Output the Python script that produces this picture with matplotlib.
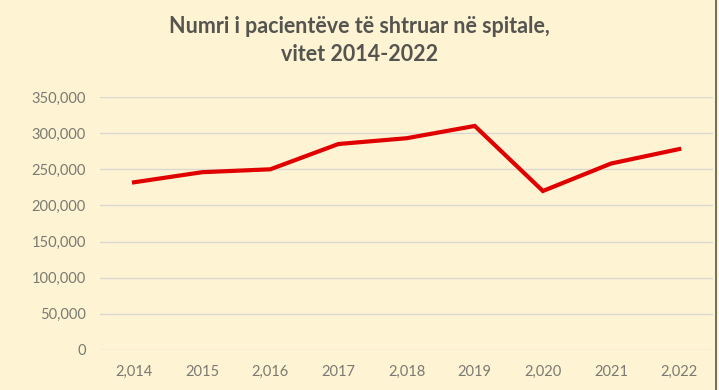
import matplotlib
matplotlib.use("Agg")
from matplotlib import pyplot as plt
from matplotlib.lines import Line2D

# data
years = ["2,014", "2015", "2,016", "2017", "2,018", "2019", "2,020", "2021", "2,022"]
patients = [232000, 246000, 250000, 285000, 293000, 310000, 220000, 258000, 278000]
y_ticks = [0, 50000, 100000, 150000, 200000, 250000, 300000, 350000]

bg = '#FEF3D3'
plt.rcParams['font.family'] = ['Lato', 'DejaVu Sans']

fig = plt.figure(figsize=(7.19, 3.9), dpi=100, facecolor=bg)
ax = fig.add_axes([0.139, 0.1026, 0.853, 0.6486], facecolor=bg)

x = list(range(len(years)))
ax.plot(x, patients, color='#E00000', linewidth=3.0, solid_joinstyle='miter', zorder=3)

ax.set_xlim(-0.5, len(years) - 0.5)
ax.set_ylim(0, 350000)
ax.set_xticks(x)
ax.set_xticklabels(years)
ax.set_yticks(y_ticks)
ax.set_yticklabels([f"{v:,}" for v in y_ticks])
ax.grid(axis='y', color='#D9D9D2', linewidth=1)
ax.set_axisbelow(True)
for s in ax.spines.values():
    s.set_visible(False)
ax.tick_params(axis='both', length=0, labelsize=10.5, labelcolor='#7A7A72')
ax.tick_params(axis='x', pad=11)
ax.tick_params(axis='y', pad=10)

fig.text(0.5, 0.897, "Numri i pacientëve të shtruar në spitale,\nvitet 2014-2022",
         ha='center', va='center', fontsize=15.5, fontweight='bold',
         color='#555550', linespacing=1.42)

fig.add_artist(Line2D([0.996, 0.996], [0, 1], transform=fig.transFigure,
                      color='#555555', linewidth=1.2))

fig.savefig('out.png', dpi=100, facecolor=bg)
